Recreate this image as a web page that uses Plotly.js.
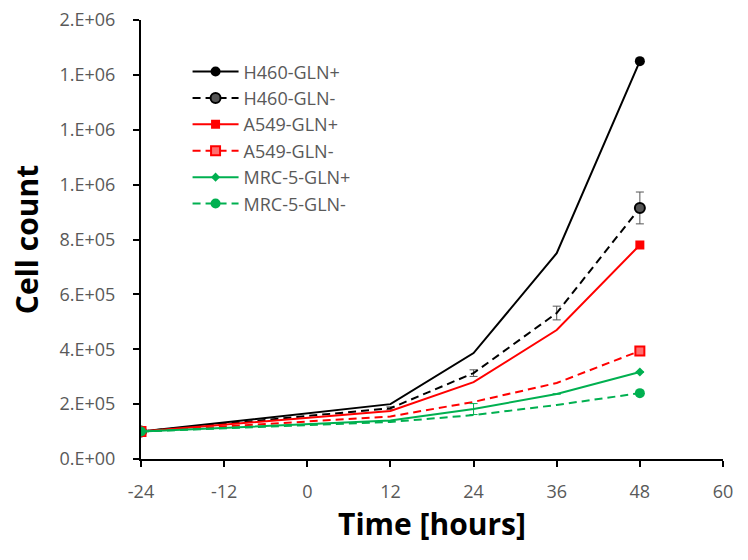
<!DOCTYPE html>
<html>
<head>
<meta charset="utf-8">
<script src="https://cdn.plot.ly/plotly-3.0.1.min.js"></script>
<style>html,body{margin:0;padding:0;background:#fff;}#chart{width:748px;height:560px;}</style>
</head>
<body>
<div id="chart"></div>
<script>
// Time points (hours)
const timeHours = [-24, 12, 24, 36, 48];

// Cell counts per series
const h460Plus  = [1.0e5, 2.0e5, 3.86e5, 7.5e5, 1.45e6];
const h460Minus = [1.0e5, 1.85e5, 3.13e5, 5.32e5, 9.15e5];
const h460MinusErr = [0, 5e3, 1.2e4, 2.5e4, 5.8e4];
const a549Plus  = [1.0e5, 1.75e5, 2.8e5, 4.7e5, 7.8e5];
const a549Minus = [1.0e5, 1.55e5, 2.08e5, 2.77e5, 3.94e5];
const mrc5Plus  = [1.0e5, 1.4e5, 1.82e5, 2.37e5, 3.17e5];
const mrc5PlusErr = [0, 0, 2.0e4, 0, 0];
const mrc5Minus = [1.0e5, 1.35e5, 1.6e5, 1.97e5, 2.4e5];

const seriesNames = ["H460-GLN+", "H460-GLN-", "A549-GLN+", "A549-GLN-", "MRC-5-GLN+", "MRC-5-GLN-"];

// Axis ticks
const xTickVals = [-24, -12, 0, 12, 24, 36, 48, 60];
const yTickVals = [0, 2e5, 4e5, 6e5, 8e5, 1.0e6, 1.2e6, 1.4e6, 1.6e6];
const yTickText = ["0.E+00", "2.E+05", "4.E+05", "6.E+05", "8.E+05", "1.E+06", "1.E+06", "1.E+06", "2.E+06"];

const RED = "#ff0000";
const GREEN = "#00b050";
const CLEAR = "rgba(0,0,0,0)";
const DASH = "8px,5px";
// markers only shown at first and last time point
const endColors = (c) => timeHours.map((t, i) => (i === 0 || i === timeHours.length - 1) ? c : CLEAR);

const traces = [
  {x: timeHours, y: h460Plus, name: seriesNames[0], mode: "lines+markers",
   line: {color: "#000", width: 2},
   marker: {symbol: "circle", size: 10, color: endColors("#000")}},
  {x: timeHours, y: h460Minus, name: seriesNames[1], mode: "lines+markers",
   line: {color: "#000", width: 2, dash: DASH},
   marker: {symbol: "circle", size: 10, color: endColors("#555"), line: {color: endColors("#000"), width: 2}},
   error_y: {type: "data", array: h460MinusErr, color: "#555", thickness: 1, width: 4}},
  {x: timeHours, y: a549Plus, name: seriesNames[2], mode: "lines+markers",
   line: {color: RED, width: 2},
   marker: {symbol: "square", size: 9, color: endColors(RED)}},
  {x: timeHours, y: a549Minus, name: seriesNames[3], mode: "lines+markers",
   line: {color: RED, width: 2, dash: DASH},
   marker: {symbol: "square", size: 9, color: endColors("#ff7070"), line: {color: endColors(RED), width: 2}}},
  {x: timeHours, y: mrc5Plus, name: seriesNames[4], mode: "lines+markers",
   line: {color: GREEN, width: 2},
   marker: {symbol: "diamond", size: 7, color: endColors(GREEN)},
   error_y: {type: "data", array: mrc5PlusErr, color: GREEN, thickness: 1, width: 4}},
  {x: timeHours, y: mrc5Minus, name: seriesNames[5], mode: "lines+markers",
   line: {color: GREEN, width: 2, dash: DASH},
   marker: {symbol: "circle", size: 10, color: endColors(GREEN)}}
];

const layout = {
  width: 748, height: 560,
  margin: {l: 141, r: 25, t: 20, b: 101},
  paper_bgcolor: "#fff", plot_bgcolor: "#fff",
  font: {family: "Open Sans, DejaVu Sans, sans-serif", color: "#595959"},
  showlegend: true,
  legend: {x: 0.08, y: 0.924, xanchor: "left", yanchor: "top",
           itemwidth: 46,
           bgcolor: "rgba(0,0,0,0)", font: {size: 18, color: "#595959"}},
  xaxis: {
    range: [-24, 60], tickvals: xTickVals, ticktext: xTickVals.map(String),
    showgrid: false, zeroline: false, showline: true, linecolor: "#000", linewidth: 2,
    ticks: "outside", ticklen: 6, tickwidth: 2, tickcolor: "#000",
    tickfont: {size: 18, color: "#595959"}, ticklabelstandoff: 9,
    title: {text: "Time [hours]", font: {size: 30, color: "#000", family: "Open Sans, sans-serif", weight: "bold"}, standoff: 8}
  },
  yaxis: {
    range: [0, 1.6e6], tickvals: yTickVals, ticktext: yTickText,
    showgrid: false, zeroline: false, showline: true, linecolor: "#000", linewidth: 2,
    ticks: "outside", ticklen: 6, tickwidth: 2, tickcolor: "#000",
    tickfont: {size: 18, color: "#595959"}, ticklabelstandoff: 14,
    title: {text: "Cell count", font: {size: 30, color: "#000", family: "Open Sans, sans-serif", weight: "bold"}, standoff: 12}
  }
};

Plotly.newPlot("chart", traces, layout, {staticPlot: true, displayModeBar: false});
</script>
</body>
</html>
